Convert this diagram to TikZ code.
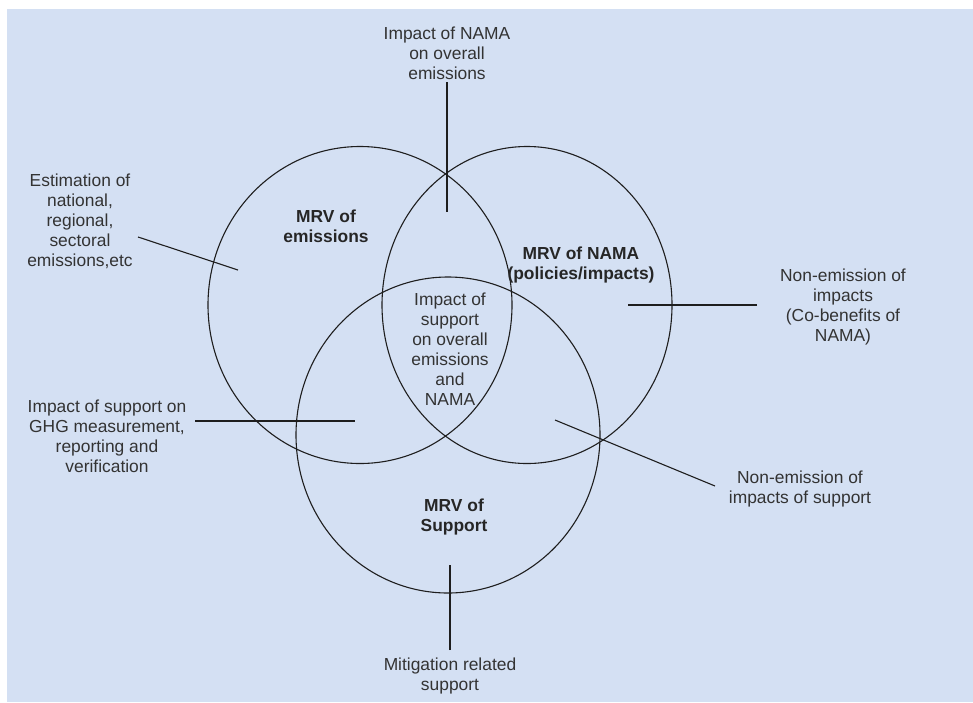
\documentclass[tikz,border=0pt]{standalone}
\usepackage{fontspec}
\setmainfont{Liberation Sans}
\usetikzlibrary{shapes.geometric}
\definecolor{panelblue}{RGB}{212,224,243}
\definecolor{inkgray}{RGB}{51,51,51}
\definecolor{rim}{RGB}{30,30,30}
\begin{document}
\begin{tikzpicture}[x=1pt,y=-1pt,
  lbl/.style={align=center,inner sep=0pt,text=inkgray,font=\fontsize{17.4}{20}\selectfont},
  head/.style={lbl,font=\fontsize{17.4}{20}\selectfont\bfseries,text=black!85},
  ring/.style={ellipse,draw=rim,line width=1.1pt,inner sep=0pt},
  leader/.style={draw=rim,line width=1.1pt}]
  % canvas
  \useasboundingbox (0,0) rectangle (973,702);
  \fill[white] (0,0) rectangle (973,702);
  \fill[panelblue] (7,9) rectangle (973,702);

  % the three sets
  \node[ring,minimum width=304pt,minimum height=317pt] (emis) at (360,305) {};
  \node[ring,minimum width=290pt,minimum height=317pt] (nama) at (527,305) {};
  \node[ring,minimum width=304pt,minimum height=316pt] (supp) at (448,435) {};

  % set titles
  \node[head] (temis) at (326,226) {MRV of\\emissions};
  \node[head] (tnama) at (581,265) {MRV of NAMA\\(policies/impacts)};
  \node[head] (tsupp) at (454,517) {MRV of\\Support};
  \node[lbl] (tcore) at (450,349) {Impact of\\support\\on overall\\emissions\\and\\NAMA};

  % outer labels
  \node[lbl] (ltop) at (447,53) {Impact of NAMA\\on overall\\emissions};
  \node[lbl] (lest) at (80,221) {Estimation of\\national,\\regional,\\sectoral\\emissions,etc};
  \node[lbl] (lcob) at (843,307) {Non-emission of\\impacts\\(Co-benefits of\\NAMA)};
  \node[lbl] (lghg) at (107,436) {Impact of support on\\GHG measurement,\\reporting and\\verification};
  \node[lbl] (lnes) at (800,489) {Non-emission of\\impacts of support};
  \node[lbl] (lmit) at (450,676) {Mitigation related\\support};

  % leader line end points
  \coordinate (ptopA) at (447,82);   \coordinate (ptopB) at (447,212);
  \coordinate (pestA) at (138,237);  \coordinate (pestB) at (238,270);
  \coordinate (pcobA) at (757,305);  \coordinate (pcobB) at (628,305);
  \coordinate (pghgA) at (195,421);  \coordinate (pghgB) at (355,421);
  \coordinate (pnesA) at (715,486);  \coordinate (pnesB) at (555,420);
  \coordinate (pmitA) at (450,650);  \coordinate (pmitB) at (450,565);

  % leader lines
  \path[leader] (ptopA) -- (ptopB);
  \path[leader] (pestA) -- (pestB);
  \path[leader] (pcobA) -- (pcobB);
  \path[leader] (pghgA) -- (pghgB);
  \path[leader] (pnesA) -- (pnesB);
  \path[leader] (pmitA) -- (pmitB);
\end{tikzpicture}
\end{document}
